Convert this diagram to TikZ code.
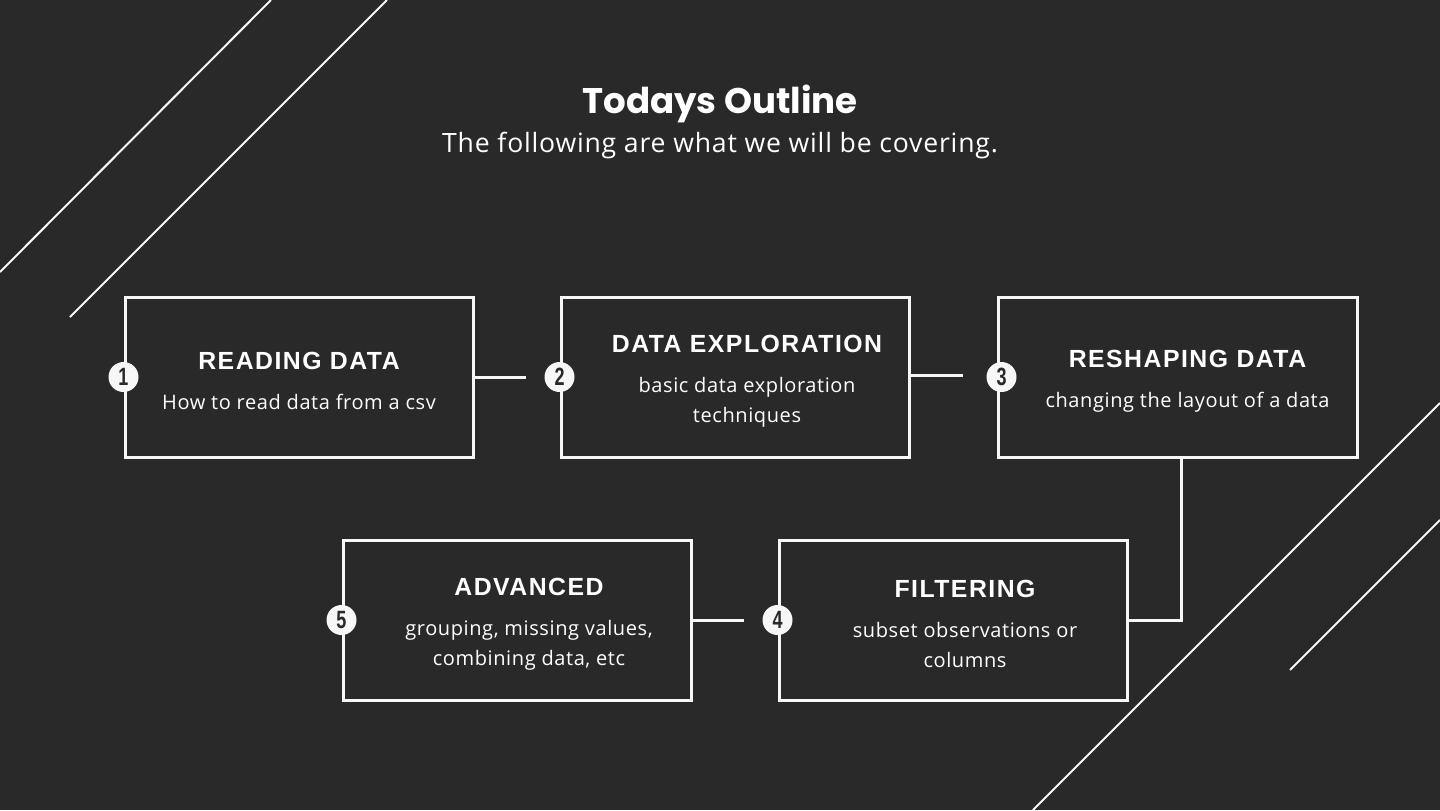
\documentclass[tikz,border=0pt]{standalone}
\usepackage{fontspec}
\usepackage{graphicx}
\usepackage{xcolor}
\usetikzlibrary{calc}
\setmainfont{Open Sans}
\newfontfamily\titlefont{Poppins}
\newfontfamily\headfont[LetterSpace=6]{Liberation Sans}
\newfontfamily\bodyfont[LetterSpace=3]{Open Sans}
\newfontfamily\numfont{Liberation Sans}
\definecolor{bg}{HTML}{292929}
\definecolor{line}{HTML}{F7F7F7}
\definecolor{text}{HTML}{FFFFFF}
\newcommand{\Item}[2]{{\headfont\bfseries\fontsize{12.4}{15}\selectfont #1}\\[5pt]#2}
\newcommand{\Num}[1]{\scalebox{0.72}[1]{\bfseries #1}}

\begin{document}
\begin{tikzpicture}[x=0.5pt,y=-0.5pt,
  stepbox/.style={draw=line, line width=1.5pt, minimum width=174pt, minimum height=80pt, inner sep=0pt},
  blurb/.style={align=center, text=text, inner sep=0pt, font=\bodyfont\fontsize{10}{15}\selectfont},
  badge/.style={circle, fill=line, minimum size=15pt, inner sep=0pt, text=bg,
    font=\numfont\fontsize{12.5}{14}\selectfont},
  link/.style={draw=line, line width=1.5pt},
  deco/.style={draw=line, line width=1pt}]
  \fill[bg] (0,0) rectangle (1440,810);
  \useasboundingbox (0,0) rectangle (1440,810);

  % background strokes
  \draw[deco] (0,272) -- (271,0);
  \draw[deco] (70,317) -- (387,0);
  \draw[deco] (1033,810) -- (1440,403);
  \draw[deco] (1290,670) -- (1440,520);

  \node[anchor=base, text=text, font=\titlefont\bfseries\fontsize{17.8}{20}\selectfont] (head) at (720,113) {Todays Outline};
  \node[anchor=base, text=text, font=\bodyfont\fontsize{13.3}{16}\selectfont] (sub) at (720,152) {The following are what we will be covering.};

  \node[stepbox] (b1) at (299,377) {};
  \node[stepbox] (b2) at (735,377) {};
  \node[stepbox, minimum width=179.5pt] (b3) at (1177.5,377) {};
  \node[stepbox] (b4) at (953,620) {};
  \node[stepbox] (b5) at (517,620) {};

  \node[blurb] (t1) at ([yshift=-2pt]b1.center) {\Item{READING DATA}{How to read data from a csv}};
  \node[blurb] (t2) at ([xshift=6pt,yshift=-2pt]b2.center) {\Item{DATA EXPLORATION}{basic data exploration\\techniques}};
  \node[blurb] (t3) at ([xshift=5pt,yshift=-2pt]b3.center) {\Item{RESHAPING DATA}{changing the layout of a data}};
  \node[blurb] (t4) at ([xshift=6pt,yshift=-2pt]b4.center) {\Item{FILTERING}{subset observations or\\columns}};
  \node[blurb] (t5) at ([xshift=6pt,yshift=-2pt]b5.center) {\Item{ADVANCED}{grouping, missing values,\\combining data, etc}};

  \node[badge] (n1) at (b1.west) {\Num{1}};
  \node[badge] (n2) at (b2.west) {\Num{2}};
  \node[badge] (n3) at ([xshift=2.5pt]b3.west) {\Num{3}};
  \node[badge] (n4) at (b4.west) {\Num{4}};
  \node[badge] (n5) at (b5.west) {\Num{5}};

  \coordinate (e2) at ([xshift=-9pt]n2.west);
  \coordinate (e3) at ([xshift=-11.5pt,yshift=1pt]n3.west);
  \coordinate (e4) at ([xshift=-9pt]n4.west);

  \draw[link] (b1.east) -- (e2);
  \draw[link] (b2.east |- e3) -- (e3);
  \draw[link] ([xshift=2pt]b3.south) |- (b4.east);
  \draw[link] (b5.east) -- (e4);
\end{tikzpicture}
\end{document}
